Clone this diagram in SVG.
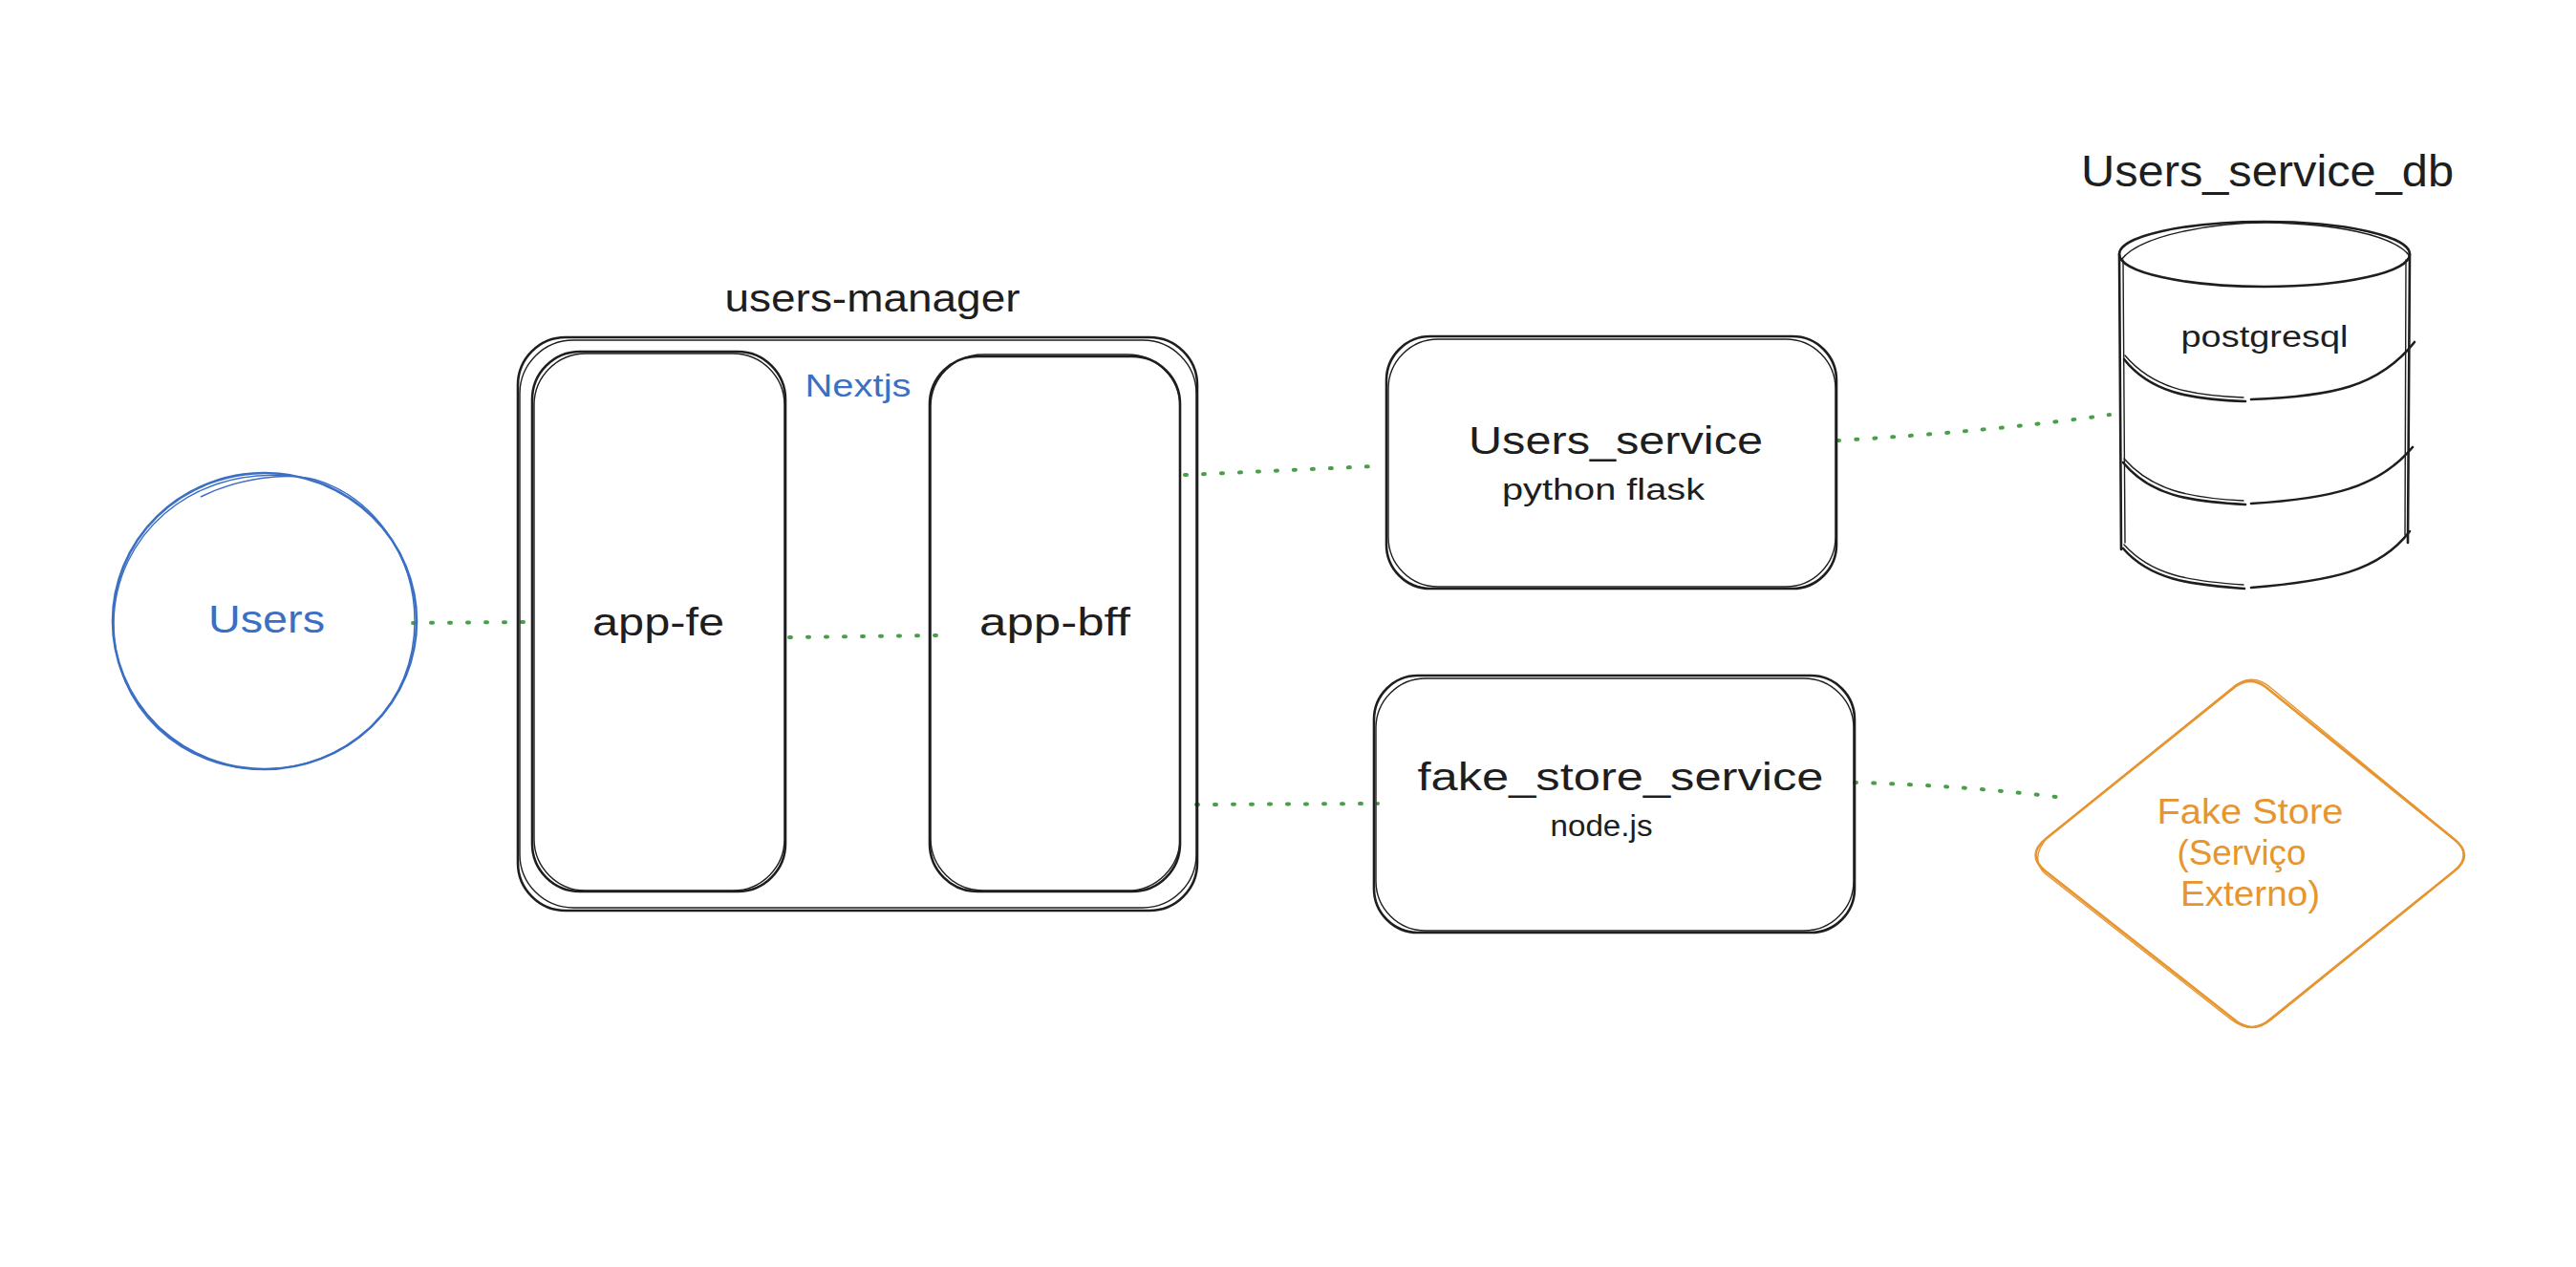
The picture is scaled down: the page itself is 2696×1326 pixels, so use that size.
<svg xmlns="http://www.w3.org/2000/svg" width="2696" height="1326" viewBox="0 0 2696 1326">
  <style>
    .bg { fill: #ffffff; }
    .shape { fill: none; stroke: #1e1e1e; stroke-width: 2.6; stroke-linecap: round; stroke-linejoin: round; }
    .shape2 { fill: none; stroke: #1e1e1e; stroke-width: 1.4; stroke-linecap: round; stroke-linejoin: round; }
    .blue { fill: none; stroke: #3b6fc4; stroke-width: 2.6; }
    .blue2 { fill: none; stroke: #3b6fc4; stroke-width: 1.4; }
    .orange { fill: none; stroke: #e6952f; stroke-width: 2.6; stroke-linejoin: round; }
    .orange2 { fill: none; stroke: #e6952f; stroke-width: 1.4; stroke-linejoin: round; }
    .conn { fill: none; stroke: #4a9e4a; stroke-width: 4; stroke-linecap: round; stroke-dasharray: 2 17; }
    text { font-family: "Liberation Sans", Arial, sans-serif; text-anchor: middle; }
    .t40 { font-size: 40px; fill: #1e1e1e; }
    .t32 { font-size: 31px; fill: #1e1e1e; }
    .tblue { fill: #3b6fc4; }
    .torange { font-size: 36px; fill: #e6952f; }
  </style>
  <rect class="bg" x="0" y="0" width="2696" height="1326"/>

  <g id="connectors">
    <path class="conn" d="M432 652 L550 651"/>
    <path class="conn" d="M826 667 L980 665"/>
    <path class="conn" d="M1240 497 L1437 488"/>
    <path class="conn" d="M1252 842 L1442 841"/>
    <path class="conn" d="M1923 461 Q2080 452 2208 434"/>
    <path class="conn" d="M1941 819 Q2060 822 2168 836"/>
  </g>

  <g id="users">
    <ellipse class="blue" cx="277" cy="650" rx="159" ry="155"/>
    <path class="blue2" d="M300 498 C200 490 120 560 119 652 C118 740 190 808 280 805 C370 802 434 735 434 650 C434 580 390 520 330 502 C300 494 250 500 210 520"/>
    <text class="t40 tblue" x="279" y="662" textLength="122" lengthAdjust="spacingAndGlyphs">Users</text>
  </g>

  <g id="users-manager">
    <rect class="shape" x="542" y="353" width="711" height="600" rx="50" ry="50"/>
    <rect class="shape2" x="544" y="356" width="708" height="594" rx="56" ry="56"/>
    <text class="t40" x="913" y="326" textLength="309" lengthAdjust="spacingAndGlyphs">users-manager</text>
    <text class="tblue" x="898" y="415" font-size="34" textLength="111" lengthAdjust="spacingAndGlyphs">Nextjs</text>
  </g>

  <g id="app-fe">
    <rect class="shape" x="557" y="368" width="265" height="565" rx="50" ry="50"/>
    <rect class="shape2" x="559" y="370" width="262" height="562" rx="54" ry="54"/>
    <text class="t40" x="689" y="665" textLength="138" lengthAdjust="spacingAndGlyphs">app-fe</text>
  </g>

  <g id="app-bff">
    <rect class="shape" x="973" y="373" width="262" height="560" rx="50" ry="50"/>
    <rect class="shape2" x="974" y="371" width="261" height="561" rx="55" ry="55"/>
    <text class="t40" x="1104" y="665" textLength="158" lengthAdjust="spacingAndGlyphs">app-bff</text>
  </g>

  <g id="users-service">
    <rect class="shape" x="1451" y="352" width="471" height="264" rx="46" ry="46"/>
    <rect class="shape2" x="1453" y="355" width="468" height="259" rx="52" ry="52"/>
    <text class="t40" x="1691" y="475" textLength="308" lengthAdjust="spacingAndGlyphs">Users_service</text>
    <text class="t32" x="1678" y="523" textLength="212" lengthAdjust="spacingAndGlyphs">python flask</text>
  </g>

  <g id="fake-store-service">
    <rect class="shape" x="1438" y="707" width="503" height="269" rx="46" ry="46"/>
    <rect class="shape2" x="1440" y="710" width="500" height="264" rx="52" ry="52"/>
    <text class="t40" x="1696" y="827" textLength="425" lengthAdjust="spacingAndGlyphs">fake_store_service</text>
    <text class="t32" x="1676" y="875" textLength="107" lengthAdjust="spacingAndGlyphs">node.js</text>
  </g>

  <g id="users-service-db">
    <text x="2373" y="195" font-size="46" fill="#1e1e1e" textLength="390" lengthAdjust="spacingAndGlyphs">Users_service_db</text>
    <ellipse class="shape" cx="2370" cy="266" rx="152" ry="34"/>
    <path class="shape2" d="M2220 272 C2240 245 2320 233 2372 233 C2440 234 2505 245 2522 268"/>
    <path class="shape" d="M2218 266 L2220 575"/>
    <path class="shape2" d="M2222 272 L2224 568"/>
    <path class="shape" d="M2522 266 L2520 568"/>
    <path class="shape2" d="M2518 272 L2517 560"/>
    <path class="shape" d="M2223 376 C2250 410 2290 418 2350 420"/>
    <path class="shape" d="M2356 418 C2440 415 2490 405 2527 358"/>
    <path class="shape2" d="M2224 372 C2252 405 2290 414 2348 416"/>
    <path class="shape" d="M2222 484 C2250 518 2290 525 2350 528"/>
    <path class="shape" d="M2356 527 C2440 522 2490 510 2525 468"/>
    <path class="shape2" d="M2223 480 C2252 513 2290 521 2348 524"/>
    <path class="shape" d="M2222 574 C2250 606 2290 612 2349 616"/>
    <path class="shape" d="M2356 615 C2440 608 2490 598 2522 556"/>
    <path class="shape2" d="M2223 570 C2252 602 2290 608 2348 612"/>
    <text class="t32" x="2370" y="363" textLength="175" lengthAdjust="spacingAndGlyphs">postgresql</text>
  </g>

  <g id="fake-store">
    <path class="orange" d="M2335 722 Q2355 704 2375 722 L2568 878 Q2590 895 2568 912 L2377 1066 Q2357 1084 2337 1066 L2141 912 Q2120 895 2141 878 Z"/>
    <path class="orange2" d="M2336 720 Q2357 702 2378 721 L2570 879 Q2588 896 2566 914 L2376 1068 Q2356 1083 2335 1067 L2140 914 Q2124 898 2143 876 Z"/>
    <text class="torange" x="2355" y="862" textLength="195" lengthAdjust="spacingAndGlyphs">Fake Store</text>
    <text class="torange" x="2346" y="905" textLength="135" lengthAdjust="spacingAndGlyphs">(Serviço</text>
    <text class="torange" x="2355" y="948" textLength="146" lengthAdjust="spacingAndGlyphs">Externo)</text>
  </g>
</svg>
